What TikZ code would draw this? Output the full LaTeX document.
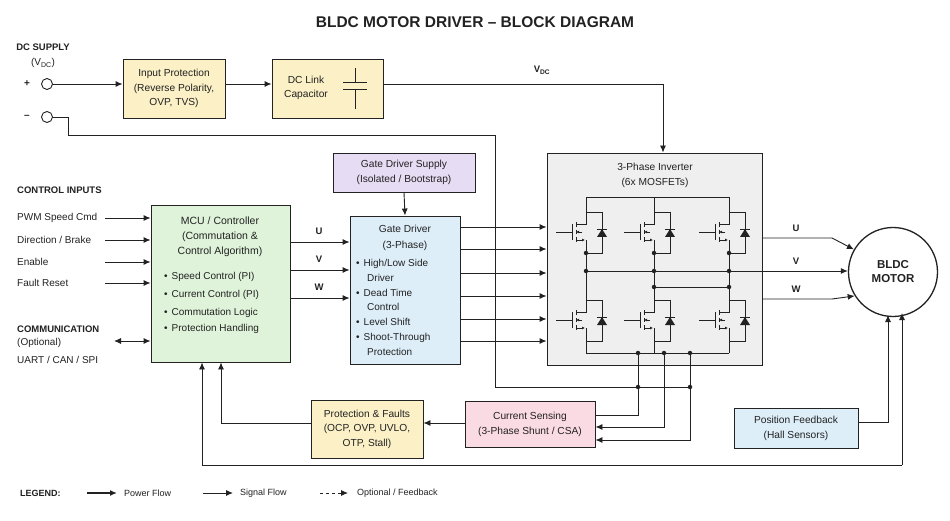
\documentclass[tikz,border=0pt]{standalone}
\usepackage{fontspec}
\setmainfont{Liberation Sans}
\usetikzlibrary{arrows.meta,positioning}
\definecolor{ink}{HTML}{222222}
\definecolor{ylw}{HTML}{FBF0C6}
\definecolor{grn}{HTML}{DFF3DA}
\definecolor{blu}{HTML}{DDEEF9}
\definecolor{lav}{HTML}{E6DCF3}
\definecolor{pnk}{HTML}{FADBE3}
\definecolor{gry}{HTML}{EFEFEF}
\tikzset{
  box/.style={draw=ink,line width=.9pt,inner sep=0pt,align=center,font=\fontsize{10.2}{14.5}\selectfont},
  sig/.style={draw=ink,line width=.9pt,-{Latex[length=7pt,width=6pt]}},
  wire/.style={draw=ink,line width=.9pt},
  lbl/.style={font=\fontsize{10}{12}\selectfont,inner sep=0pt},
  hdr/.style={lbl,font=\fontsize{9.5}{11}\selectfont\bfseries},
  dot/.style={circle,fill=ink,inner sep=0pt,minimum size=4.5pt},
}
% one MOSFET with its body diode, drain above and source below
\newcommand\fet[2]{
  \draw[wire] (#1-30,#2)--(#1-14,#2) (#1-14,#2-8)--(#1-14,#2+8)
    (#1-10,#2-10)--(#1-10,#2-5) (#1-10,#2-2)--(#1-10,#2+2) (#1-10,#2+5)--(#1-10,#2+10)
    (#1-10,#2-8)--(#1,#2-8)--(#1,#2-20) (#1,#2+8)--(#1,#2+21)
    (#1,#2-20)--(#1+16,#2-20)--(#1+16,#2+21)--(#1,#2+21);
  \draw[wire,-{Latex[length=3pt,width=3pt]}] (#1-10,#2+8)--(#1-1,#2+8);
  \draw[wire,-{Latex[length=3pt,width=3pt]}] (#1-4,#2)--(#1-10,#2);
  \fill[ink] (#1+11,#2+5)--(#1+21,#2+5)--(#1+16,#2-3)--cycle;
  \draw[wire] (#1+11,#2-3)--(#1+21,#2-3);
}
\begin{document}
\begin{tikzpicture}[x=1pt,y=-1pt,ink]
  \useasboundingbox[fill=white] (0,0) rectangle (950,521);
  \node[font=\fontsize{15.5}{17}\selectfont\bfseries] (title) at (475,22) {BLDC MOTOR DRIVER – BLOCK DIAGRAM};

  % supply side
  \node[hdr] (dcs) at (43,47) {DC SUPPLY};
  \node[lbl] (vdc) at (43,63) {(V\textsubscript{DC})};
  \node[lbl,font=\bfseries] at (27,84) {+};
  \node[lbl,font=\bfseries] at (27,117) {–};
  \node[draw=ink,line width=.9pt,circle,minimum size=11pt,inner sep=0pt,fill=white] (vp) at (47,84) {};
  \node[draw=ink,line width=.9pt,circle,minimum size=11pt,inner sep=0pt,fill=white] (vn) at (47,117) {};
  \node[box,fill=ylw,minimum width=102pt,minimum height=59pt] (inprot) at (174,88.5) {Input Protection\\(Reverse Polarity,\\OVP, TVS)};
  \node[box,fill=ylw,minimum width=111pt,minimum height=59pt] (dclink) at (327.5,88.5) {};
  \node[lbl,align=center,font=\fontsize{10.2}{14.5}\selectfont] at (306,88) {DC Link\\Capacitor};
  \draw[wire] (355,68)--(355,82) (343,82)--(367,82) (343,89)--(367,89) (355,89)--(355,109);
  \node[hdr] (vdclbl) at (542,70) {V\textsubscript{DC}};

  % inverter
  \node[box,fill=gry,minimum width=215pt,minimum height=212pt] (inv) at (654.5,259) {};
  \node[lbl,align=center,font=\fontsize{10.2}{15}\selectfont] at (655,175) {3-Phase Inverter\\(6x MOSFETs)};
  \foreach \lx in {586,654,729}{
    \fet{\lx}{232}
    \fet{\lx}{320}
    \draw[wire] (\lx,212)--(\lx,197) (\lx,253)--(\lx,300) (\lx,341)--(\lx,353);
    \node[dot] at (\lx,253) {};
    \node[dot] at (\lx,271) {};
  }
  \draw[wire] (586,197)--(729,197) (586,353)--(729,353) (654,287)--(729,287);
  \node[dot] at (654,287) {};
  \node[dot] at (729,287) {};
  \coordinate (invU) at (762,238);
  \coordinate (invV) at (762,271);
  \coordinate (invW) at (762,299);
  \draw[wire] (586,271)--(invV);

  % motor
  \node[draw=ink,line width=1.3pt,circle,minimum size=89pt,inner sep=0pt,align=center,font=\fontsize{11.5}{14}\selectfont\bfseries] (motor) at (893,272) {BLDC\\MOTOR};
  \draw[sig] (invU)--(832,238)--(motor.150);
  \draw[sig] (invV)--(motor.west|-invV);
  \draw[sig] (invW)--(832,299)--(motor.212);
  \node[hdr] at (796,228) {U};
  \node[hdr] at (796,261) {V};
  \node[hdr] at (796,289) {W};

  % DC bus wiring
  \draw[sig] (vp)--(inprot.west|-vp);
  \draw[sig] (inprot.east|-vp)--(dclink.west|-vp);
  \draw[sig] (dclink.east|-vp)--(663,84)--(inv.north-|663,0);
  \coordinate (gnd) at (495,387);
  \draw[wire] (vn)--(68,117)--(68,135)--(495,135)--(gnd)--(690,387);
  \node[dot] at (638,387) {};
  \node[dot] at (690,387) {};

  % gate driver
  \node[box,fill=lav,minimum width=142pt,minimum height=39pt,font=\fontsize{10.2}{15}\selectfont] (gds) at (404,172.5) {Gate Driver Supply\\(Isolated / Bootstrap)};
  \node[box,fill=blu,minimum width=110pt,minimum height=148pt] (gd) at (405,290) {};
  \node[lbl,align=center,font=\fontsize{10.2}{16}\selectfont] at (405,238) {Gate Driver\\(3-Phase)};
  \foreach \ty/\tx in {264/{High/Low Side},293/{Dead Time},322/{Level Shift},338/{Shoot-Through}}
    \node[lbl,anchor=west] at (356,\ty) {•\hspace{4pt}\tx};
  \foreach \ty/\tx in {278/Driver,307/Control,352/Protection}
    \node[lbl,anchor=west] at (367,\ty) {\tx};
  \draw[sig] (gds.south)--(gd.north);
  \foreach \gy in {227,249,273,296,319,341}
    \draw[sig] (gd.east|-0,\gy)--(inv.west|-0,\gy);

  % controller
  \node[box,fill=grn,minimum width=139pt,minimum height=157pt] (mcu) at (220.5,283.5) {};
  \node[lbl,align=center,font=\fontsize{10.5}{15}\selectfont] at (220,237) {MCU / Controller\\(Commutation \&\\Control Algorithm)};
  \foreach \ty/\tx in {277/{Speed Control (PI)},295/{Current Control (PI)},313/{Commutation Logic},329/{Protection Handling}}
    \node[lbl,anchor=west] at (164,\ty) {•\hspace{4pt}\tx};
  \foreach \py/\pn in {242/U,270/V,298/W}{
    \draw[sig] (mcu.east|-0,\py)--(gd.west|-0,\py);
    \node[hdr] at (319,\py-11) {\pn};
  }

  % control inputs
  \node[hdr,anchor=west] at (17,190) {CONTROL INPUTS};
  \foreach \iy/\it in {218/{PWM Speed Cmd},240/{Direction / Brake},262/{Enable},283/{Fault Reset}}{
    \node[lbl,anchor=west] at (17,\iy) {\it};
    \draw[sig] (105,\iy)--(mcu.west|-0,\iy);
  }
  \node[hdr,anchor=west] at (17,329) {COMMUNICATION};
  \node[lbl,anchor=west] at (17,343) {(Optional)};
  \node[lbl,anchor=west] at (17,360) {UART / CAN / SPI};
  \draw[sig,{Latex[length=7pt,width=6pt]}-{Latex[length=7pt,width=6pt]}] (114,341)--(mcu.west|-0,341);

  % sensing and protection
  \node[box,fill=pnk,minimum width=130pt,minimum height=46pt,font=\fontsize{10.2}{15}\selectfont] (cs) at (530,424) {Current Sensing\\(3-Phase Shunt / CSA)};
  \node[box,fill=ylw,minimum width=112pt,minimum height=58pt] (pf) at (367,429) {Protection \& Faults\\(OCP, OVP, UVLO,\\OTP, Stall)};
  \node[dot] at (638,353) {};
  \node[dot] at (664,353) {};
  \node[dot] at (690,353) {};
  \draw[wire] (638,353)--(638,415)--(cs.east|-0,415);
  \draw[sig] (664,353)--(664,427)--(cs.east|-0,427);
  \draw[sig] (690,353)--(690,440)--(cs.east|-0,440);
  \draw[sig] (cs.west|-0,423)--(pf.east|-0,423);
  \draw[sig] (pf.west|-0,423)--(221,423)--(mcu.south-|221,0);

  % position feedback
  \node[box,fill=blu,minimum width=124pt,minimum height=40pt,font=\fontsize{10.2}{15}\selectfont] (pos) at (796,428) {Position Feedback\\(Hall Sensors)};
  \draw[sig] (pos.east|-0,422)--(888,422)--(888,315);
  \draw[sig] (902,465)--(902,313);
  \draw[sig] (902,465)--(202,465)--(mcu.south-|202,0);

  % legend
  \node[hdr,anchor=west,font=\fontsize{9}{10}\selectfont\bfseries] (leg) at (20,493) {LEGEND:};
  \draw[draw=ink,line width=1.5pt,-{Latex[length=7pt,width=6pt]}] (87,493)--(117,493);
  \node[lbl,anchor=west,font=\fontsize{9}{10}\selectfont] at (124,493) {Power Flow};
  \draw[sig] (203,493)--(233,493);
  \node[lbl,anchor=west,font=\fontsize{9}{10}\selectfont] at (240,493) {Signal Flow};
  \draw[sig,dashed] (320,493)--(348,493);
  \node[lbl,anchor=west,font=\fontsize{9}{10}\selectfont] at (357,493) {Optional / Feedback};
\end{tikzpicture}
\end{document}
